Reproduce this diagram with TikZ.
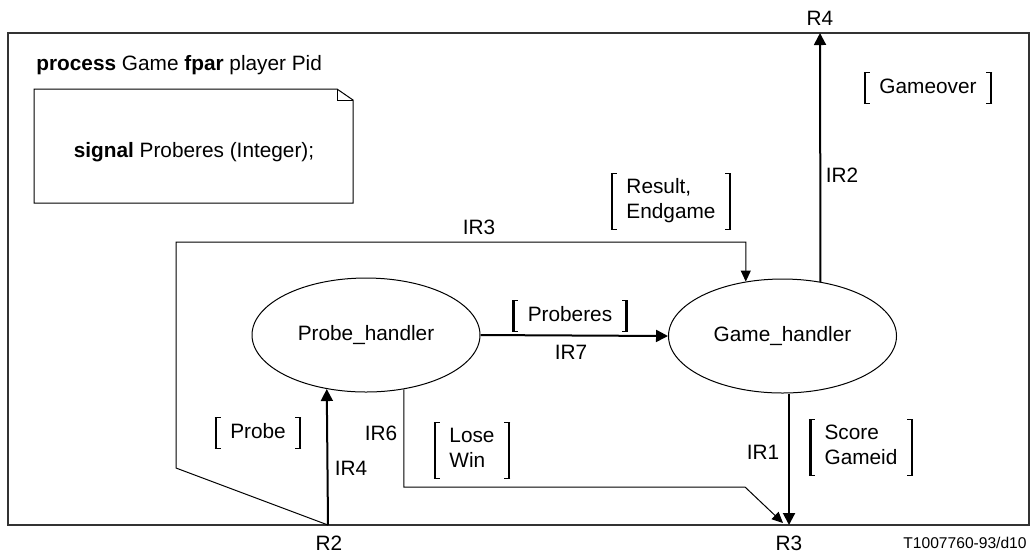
\documentclass[tikz,border=0pt]{standalone}
\usepackage{fontspec}
\setmainfont{Liberation Sans}
\usepackage{tikz}
\usetikzlibrary{shapes.geometric}
\usetikzlibrary{arrows.meta}

\newcommand{\siglist}[1]{\begin{tabular}{@{}l@{}}#1\end{tabular}}

\tikzset{
  proc/.style={draw, ellipse, line width=0.5pt, inner sep=0pt,
               minimum width=114pt, minimum height=57pt},
  chan/.style={line width=1pt, -{Triangle[length=6pt,width=6pt]}},
  route/.style={line width=0.5pt, -{Triangle[length=5.5pt,width=5pt]}},
  lbl/.style={inner sep=0pt},
  sigs/.style={inner xsep=7pt, inner ysep=1pt,
    append after command={\pgfextra{
      \draw[line width=1.3pt]
        (\tikzlastnode.north west) -- (\tikzlastnode.south west)
        (\tikzlastnode.north east) -- (\tikzlastnode.south east);
      \draw[line width=0.5pt]
        ([xshift=-0.65pt]\tikzlastnode.north west) -- ++(3pt,0)
        ([xshift=-0.65pt]\tikzlastnode.south west) -- ++(3pt,0)
        ([xshift=0.65pt]\tikzlastnode.north east) -- ++(-3pt,0)
        ([xshift=0.65pt]\tikzlastnode.south east) -- ++(-3pt,0);}}}
}

\begin{document}
\begin{tikzpicture}[x=0.5pt, y=-0.5pt, font=\fontsize{10.4}{12.8}\selectfont]

\useasboundingbox (0,0) rectangle (1031,553);

% frame of the process
\draw[line width=0.6pt, black!80] (8,33) rectangle (1029,525);
\node[lbl, anchor=west] (title) at (36,65)
  {\textbf{process} Game \textbf{fpar} player Pid};

% text symbol
\draw[line width=0.5pt] (34,89) -- (337,89) -- (353,100) -- (353,203)
  -- (34,203) -- cycle;
\draw[line width=0.5pt] (337,89) -- (337,100) -- (353,100);
\node[lbl] (decl) at (194,152) {\textbf{signal} Proberes (Integer);};

% processes
\node[proc] (ph) at (366,335) {Probe\_handler};
\node[proc] (gh) at (782.5,336) {Game\_handler};

% ports on the frame
\coordinate (R2) at (328,525);
\coordinate (R3) at (789,525);
\coordinate (R3b) at (783,523);
\coordinate (R4) at (820,33);
\coordinate (c3a) at (176,468);
\coordinate (c3b) at (176,242);
\coordinate (c6) at (745,487);

\node[lbl] (lR2) at (329,543) {R2};
\node[lbl] (lR3) at (789,543) {R3};
\node[lbl] (lR4) at (820,18) {R4};
\node[lbl, font=\fontsize{7.8}{9}\selectfont] (ref) at (965,543) {T1007760-93/d10};

% routes
\draw[chan] (ph.east) -- (gh.west);
\draw[chan] (R2) -- (ph.234.7);
\draw[chan] (R3 |- gh.south) -- (R3);
\draw[chan] (gh.55.5) -- (R4);
\draw[route] (R2) -- (c3a) -- (c3b) -- (c3b -| gh.124.4) -- (gh.124.4);
\draw[route] (ph.305.3) -- (ph.305.3 |- c6) -- (c6) -- (R3b);

% route names
\node[lbl] (nIR7) at (571,352) {IR7};
\node[lbl] (nIR4) at (351,468) {IR4};
\node[lbl] (nIR6) at (381,433) {IR6};
\node[lbl] (nIR3) at (479,227) {IR3};
\node[lbl] (nIR1) at (763,452) {IR1};
\node[lbl] (nIR2) at (842,175) {IR2};

% signal lists
\node[sigs] (sIR7) at (570,316) {\siglist{Proberes}};
\node[sigs] (sIR4) at (258,433) {\siglist{Probe}};
\node[sigs] (sIR6) at (472,450) {\siglist{Lose\\Win}};
\node[sigs] (sIR1) at (861,447) {\siglist{Score\\Gameid}};
\node[sigs] (sIR2) at (928,88) {\siglist{Gameover}};
\node[sigs] (sIR3) at (671,201) {\siglist{Result,\\Endgame}};

\end{tikzpicture}
\end{document}
